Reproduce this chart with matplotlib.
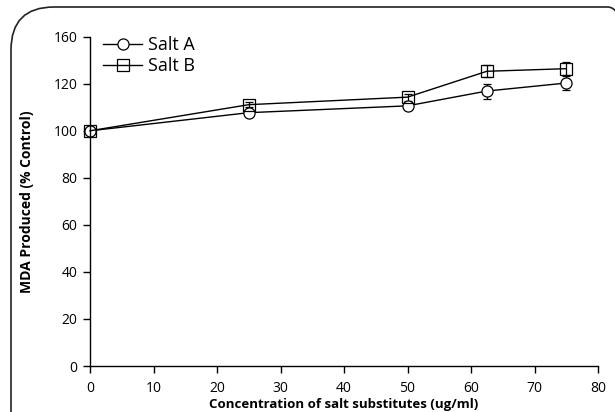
import matplotlib
matplotlib.use("Agg")
import matplotlib.pyplot as plt
from matplotlib.patches import FancyBboxPatch
from matplotlib.lines import Line2D

conc = [0, 25, 50, 62.5, 75]
salt_a = [100, 107.7, 110.6, 116.9, 120.3]
salt_a_err = [0.8, 1.0, 1.2, 3.2, 2.8]
salt_b = [100, 111.1, 114.3, 125.3, 126.4]
salt_b_err = [0.8, 1.0, 1.5, 2.6, 2.8]
xticks = [0, 10, 20, 30, 40, 50, 60, 70, 80]
yticks = [0, 20, 40, 60, 80, 100, 120, 140]
ytick_labels = ["0", "20", "40", "60", "80", "100", "120", "160"]

plt.rcParams['font.family'] = ["Open Sans", 'DejaVu Sans']

fig = plt.figure(figsize=(6.15, 4.12), dpi=100)
frame = FancyBboxPatch((11/615, -0.2), 640/615, (412-7)/412 + 0.2,
                       boxstyle="round,pad=0,rounding_size=0.07",
                       transform=fig.transFigure, fill=False,
                       edgecolor="#222222", linewidth=1.2, mutation_aspect=615/412)
fig.patches.append(frame)

ax = fig.add_axes([90/615, 1-366/412, (598-90)/615, (366-36.7)/412])
for y, e, m, mfc in [(salt_a, salt_a_err, "o", "white"), (salt_b, salt_b_err, "s", "none")]:
    _, caps, bars = ax.errorbar(conc, y, yerr=e, color="black", lw=1, marker=m,
                ms=8, mfc=mfc, mec="black", mew=0.9, capsize=3, elinewidth=0.9,
                capthick=0.9)
    for art in list(caps) + list(bars) + ax.lines:
        art.set_clip_on(False)
ax.set_xlim(0, 80)
ax.set_ylim(0, 140)
ax.set_xticks(xticks)
ax.set_yticks(yticks)
ax.set_yticklabels(ytick_labels)
ax.tick_params(direction="out", length=5, width=1, labelsize=10, pad=4)
ax.tick_params(axis="x", pad=6)
for s in ["top", "right"]:
    ax.spines[s].set_visible(False)
for s in ["left", "bottom"]:
    ax.spines[s].set_linewidth(1)
ax.set_ylabel("MDA Produced (% Control)", fontsize=10, fontweight="bold", labelpad=14)
ax.set_xlabel("Concentration of salt substitutes (ug/ml)", fontsize=9.5,
              fontweight="bold", labelpad=1)
handles = [Line2D([], [], color="black", lw=1, marker="o", ms=8, mfc="white", mec="black", mew=0.9),
           Line2D([], [], color="black", lw=1, marker="s", ms=8, mfc="none", mec="black", mew=0.9)]
ax.legend(handles, ["Salt A", "Salt B"], loc="upper left", bbox_to_anchor=(0.0, 1.04),
          frameon=False, fontsize=13, handlelength=2.2, handletextpad=0.3,
          labelspacing=0.15, borderaxespad=0.3)
fig.savefig("out.png", dpi=100)
